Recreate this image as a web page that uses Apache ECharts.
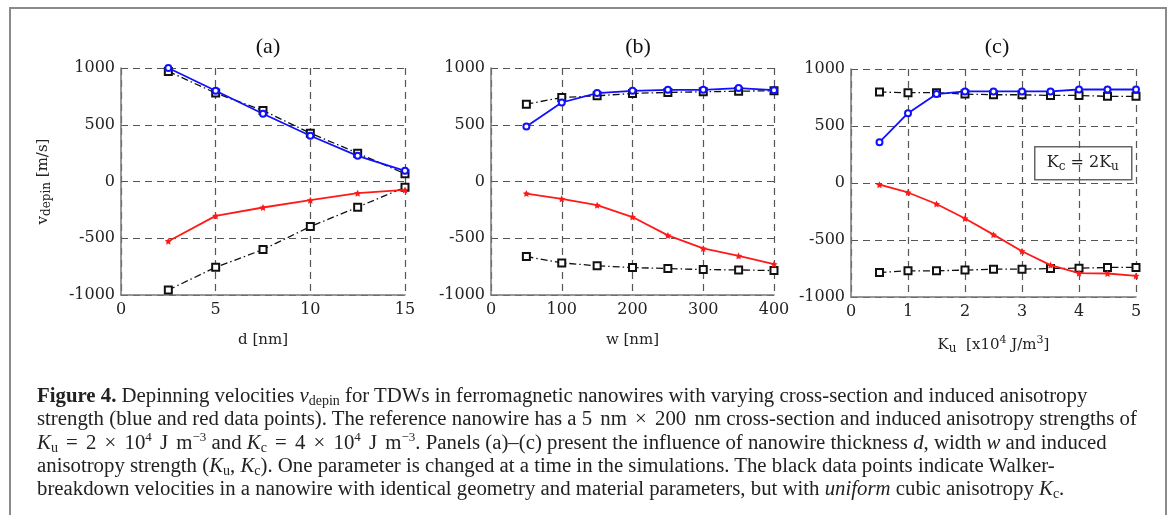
<!DOCTYPE html>
<html>
<head>
<meta charset="utf-8">
<script src="https://cdn.jsdelivr.net/npm/echarts@6/dist/echarts.min.js"></script>
<style>
  html, body { margin: 0; padding: 0; background: #fff; }
  #wrap { position: relative; width: 1171px; height: 515px; overflow: hidden; }
  #main { position: absolute; left: 0; top: 0; width: 1171px; height: 515px; }
  #frame { position: absolute; left: 9px; top: 7px; width: 1158px; height: 520px;
           border: 2px solid #8a8a8a; box-sizing: border-box; pointer-events: none; }
  #caption { position: absolute; left: 37px; top: 383px; width: 1130px; white-space: nowrap;
             font-family: "Liberation Serif", serif; font-size: 20.8px; line-height: 23.3px; color: #222; }
  #caption sub { font-size: 14px; line-height: 0; vertical-align: -3px; }
  #caption sup { font-size: 13px; line-height: 0; vertical-align: 8px; }
  #caption .m { word-spacing: 3px; }
</style>
</head>
<body>
<div id="wrap">
  <div id="main"></div>
  <div id="frame"></div>
  <div id="caption">
    <b>Figure 4.</b> Depinning velocities <i>v</i><sub>depin</sub> for TDWs in ferromagnetic nanowires with varying cross-section and induced anisotropy<br>
    strength (blue and red data points). The reference nanowire has a <span class="m">5 nm &times; 200 nm</span> cross-section and induced anisotropy strengths of<br>
    <span class="m"><i>K</i><sub>u</sub> = 2 &times; 10<sup>4</sup> J m<sup>&minus;3</sup></span> and <span class="m"><i>K</i><sub>c</sub> = 4 &times; 10<sup>4</sup> J m<sup>&minus;3</sup></span>. Panels (a)&ndash;(c) present the influence of nanowire thickness <i>d</i>, width <i>w</i> and induced<br>
    anisotropy strength (<i>K</i><sub>u</sub>, <i>K</i><sub>c</sub>). One parameter is changed at a time in the simulations. The black data points indicate Walker-<br>
    breakdown velocities in a nanowire with identical geometry and material parameters, but with <i>uniform</i> cubic anisotropy <i>K</i><sub>c</sub>.
  </div>
</div>
<script>
// panel (a): thickness d [nm]
const dVals = [2.5, 5, 7.5, 10, 12.5, 15];
const aBlue = [1000, 800, 597, 403, 226, 94];
const aRed = [-526, -303, -229, -165, -103, -74];
const aWalkUp = [970, 779, 626, 426, 250, 68];
const aWalkLow = [-956, -756, -600, -397, -226, -50];

// panel (b): width w [nm]
const wVals = [50, 100, 150, 200, 250, 300, 350, 400];
const bBlue = [484, 696, 779, 799, 808, 808, 823, 805];
const bRed = [-106, -153, -209, -313, -475, -590, -655, -729];
const bWalkUp = [681, 740, 755, 776, 785, 790, 796, 799];
const bWalkLow = [-661, -717, -743, -758, -767, -776, -779, -785];

// panel (c): Ku [x10^4 J/m^3]
const kVals = [0.5, 1, 1.5, 2, 2.5, 3, 3.5, 4, 4.5, 5];
const cBlue = [358, 612, 780, 803, 803, 803, 803, 820, 820, 820];
const cRed = [-15, -83, -184, -311, -453, -599, -720, -791, -794, -815];
const cWalkUp = [798, 792, 792, 780, 774, 774, 768, 768, 760, 760];
const cWalkLow = [-785, -770, -770, -764, -756, -756, -750, -747, -741, -741];

const yTicks = [-1000, -500, 0, 500, 1000];

var chartDom = document.getElementById('main');
var myChart = echarts.init(chartDom);

const tickFont = 'DejaVu Serif';
const starPath = 'path://M0,-10 L2.9,-4 L9.5,-3.1 L4.7,1.5 L5.9,8.1 L0,5 L-5.9,8.1 L-4.7,1.5 L-9.5,-3.1 L-2.9,-4 Z';

function pairs(xs, ys) {
  return xs.map((x, i) => [x, ys[i]]);
}

const richAx = {
  sub: { fontFamily: tickFont, fontSize: 12, color: '#222', verticalAlign: 'bottom', padding: [8, 0, 0, 0] },
  sup: { fontFamily: tickFont, fontSize: 11, color: '#222', verticalAlign: 'top', padding: [0, 0, 8, 0] },
  n: { fontFamily: tickFont, fontSize: 15, color: '#222' }
};

function xAx(idx, max, interval, name) {
  return {
    type: 'value', gridIndex: idx, min: 0, max: max, interval: interval,
    name: name, nameLocation: 'middle', nameGap: 38,
    nameTextStyle: { fontFamily: tickFont, fontSize: 15, color: '#222', rich: richAx },
    axisLine: { show: true, onZero: false, lineStyle: { color: '#777', width: 1.5 } },
    axisTick: { show: false },
    axisLabel: { fontFamily: tickFont, fontSize: 16, color: '#222', margin: 7, formatter: v => String(v) },
    splitLine: { show: true, lineStyle: { color: '#555', type: [7, 5], width: 1.2 } }
  };
}

function yAx(idx, name) {
  return {
    type: 'value', gridIndex: idx, min: yTicks[0], max: yTicks[yTicks.length - 1], interval: 500,
    name: name, nameLocation: 'middle', nameGap: 68,
    nameTextStyle: { fontFamily: tickFont, fontSize: 15, color: '#222', rich: richAx },
    axisLine: { show: true, lineStyle: { color: '#777', width: 1.5 } },
    axisTick: { show: false },
    axisLabel: { fontFamily: tickFont, fontSize: 16, color: '#222', margin: 6, formatter: v => String(v) },
    splitLine: { show: true, lineStyle: { color: '#555', type: [7, 5], width: 1.2 } }
  };
}

function blueS(idx, data) {
  return {
    type: 'line', xAxisIndex: idx, yAxisIndex: idx, data: data, z: 5,
    symbol: 'emptyCircle', symbolSize: 6,
    lineStyle: { color: '#1010ff', width: 1.8 },
    itemStyle: { color: '#1010ff', borderWidth: 1.6 }
  };
}
function redS(idx, data) {
  return {
    type: 'line', xAxisIndex: idx, yAxisIndex: idx, data: data, z: 4,
    symbol: starPath, symbolSize: 7,
    lineStyle: { color: '#ff1a1a', width: 1.8 },
    itemStyle: { color: '#ff1a1a' }
  };
}
function blackS(idx, data) {
  return {
    type: 'line', xAxisIndex: idx, yAxisIndex: idx, data: data, z: 3,
    symbol: 'emptyRect', symbolSize: 7,
    lineStyle: { color: '#111', width: 1.3, type: [7, 3, 1.5, 3] },
    itemStyle: { color: '#111', borderWidth: 1.2 }
  };
}

const titleStyle = { fontFamily: 'Liberation Serif', fontSize: 22, fontWeight: 'normal', color: '#111' };

var option = {
  backgroundColor: '#fff',
  animation: false,
  title: [
    { text: '(a)', left: 263, top: 31, textAlign: 'center', textStyle: titleStyle },
    { text: '(b)', left: 633, top: 31, textAlign: 'center', textStyle: titleStyle },
    { text: '(c)', left: 992, top: 31, textAlign: 'center', textStyle: titleStyle }
  ],
  grid: [
    { left: 121, top: 68, width: 284, height: 227 },
    { left: 491, top: 68, width: 283, height: 227 },
    { left: 851, top: 69, width: 285, height: 228 }
  ],
  xAxis: [
    xAx(0, 15, 5, 'd [nm]'),
    xAx(1, 400, 100, 'w [nm]'),
    xAx(2, 5, 1, '{n|K}{sub|u}{n|  [x10}{sup|4}{n| J/m}{sup|3}{n|]}')
  ],
  yAxis: [
    yAx(0, '{n|v}{sub|depin}{n| [m/s]}'),
    yAx(1, ''),
    yAx(2, '')
  ],
  graphic: [{
    type: 'group', left: 1034, top: 146,
    children: [
      { type: 'rect', shape: { x: 0, y: 0, width: 97, height: 33 },
        style: { fill: '#fff', stroke: '#666', lineWidth: 1.5 } },
      { type: 'text', x: 48, y: 16,
        style: { text: '{n|K}{s|c}{n| = 2K}{s|u}', align: 'center', verticalAlign: 'middle',
          rich: {
            n: { fontFamily: tickFont, fontSize: 16, fill: '#222' },
            s: { fontFamily: tickFont, fontSize: 12, fill: '#222', verticalAlign: 'bottom', padding: [9, 0, 0, 0] }
          } } }
    ]
  }],
  series: [
    blackS(0, pairs(dVals, aWalkUp)),
    blackS(0, pairs(dVals, aWalkLow)),
    redS(0, pairs(dVals, aRed)),
    blueS(0, pairs(dVals, aBlue)),
    blackS(1, pairs(wVals, bWalkUp)),
    blackS(1, pairs(wVals, bWalkLow)),
    redS(1, pairs(wVals, bRed)),
    blueS(1, pairs(wVals, bBlue)),
    blackS(2, pairs(kVals, cWalkUp)),
    blackS(2, pairs(kVals, cWalkLow)),
    redS(2, pairs(kVals, cRed)),
    blueS(2, pairs(kVals, cBlue))
  ]
};

option && myChart.setOption(option);
</script>
</body>
</html>
